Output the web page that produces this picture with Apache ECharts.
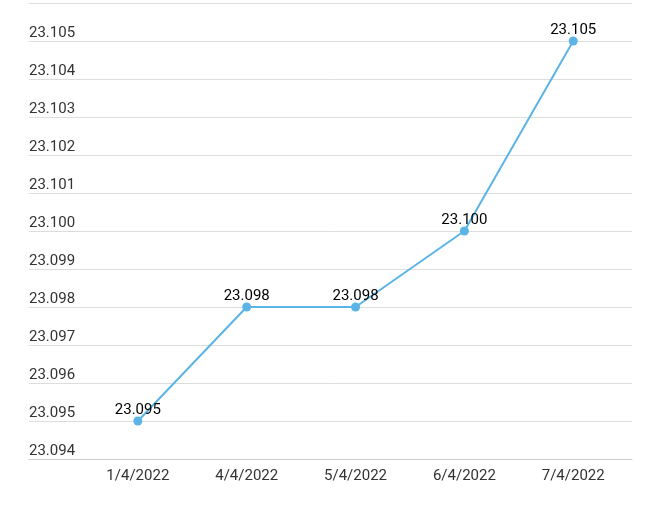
<!DOCTYPE html>
<html><head><meta charset="utf-8">
<script src="https://cdn.jsdelivr.net/npm/echarts@6/dist/echarts.min.js"></script>
<style>html,body{margin:0;padding:0;background:#fff}#c{width:660px;height:509px}</style>
</head><body><div id="c"></div>
<script>
const categories = ['1/4/2022','4/4/2022','5/4/2022','6/4/2022','7/4/2022'];
const values = [23.095, 23.098, 23.098, 23.100, 23.105];
const chart = echarts.init(document.getElementById('c'));
chart.setOption({
  animation:false,
  grid:{left:29,right:28,top:3,bottom:50},
  xAxis:{type:'value',min:0,max:5.54,interval:1,
    axisLine:{show:true,lineStyle:{color:'#ccc'}},axisTick:{show:false},splitLine:{show:false},
    axisLabel:{color:'#333',fontSize:15,fontFamily:'Roboto',margin:10,showMaxLabel:false,
      formatter:v=>Number.isInteger(v)&&v>=1&&v<=categories.length?categories[v-1]:''}},
  yAxis:{type:'value',min:23.094,max:23.106,interval:0.001,
    axisLine:{show:false},axisTick:{show:false},
    splitLine:{lineStyle:{color:'#ddd'}},
    axisLabel:{inside:true,verticalAlign:'bottom',color:'#333',fontSize:15,fontFamily:'Roboto',margin:0,
      showMaxLabel:false,formatter:v=>v.toFixed(3)}},
  series:[{type:'line',data:values.map((v,i)=>[i+1,v]),
    lineStyle:{color:'#5ab4e5',width:2},itemStyle:{color:'#5ab4e5'},
    symbol:'circle',symbolSize:9,
    label:{show:true,position:'top',color:'#000',fontSize:15,fontFamily:'Roboto',distance:-1,formatter:p=>p.value[1].toFixed(3)}}]
});
</script></body></html>
